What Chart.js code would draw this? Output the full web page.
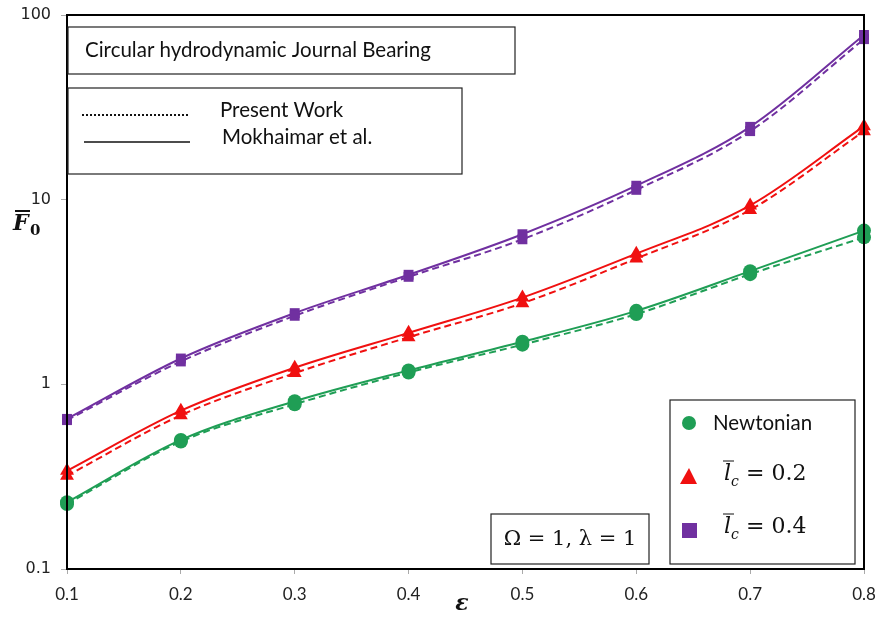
<!DOCTYPE html>
<html>
<head>
<meta charset="utf-8">
<script src="https://cdn.jsdelivr.net/npm/chart.js@4/dist/chart.umd.min.js"></script>
<style>
  html, body { margin: 0; padding: 0; background: #fff; }
  #wrap { width: 881px; height: 619px; }
</style>
</head>
<body>
<div id="wrap"><canvas id="bearingChart" width="881" height="619"></canvas></div>
<script>
// eccentricity ratio
const eps = [0.1, 0.2, 0.3, 0.4, 0.5, 0.6, 0.7, 0.8];

// Newtonian
const newtPresent = [0.225, 0.49, 0.78, 1.16, 1.64, 2.4, 3.95, 6.25];
const newtMokh = [0.23, 0.50, 0.81, 1.19, 1.70, 2.5, 4.1, 6.8];
// l_c = 0.2
const lc02Present = [0.32, 0.68, 1.15, 1.8, 2.75, 4.8, 8.8, 23.5];
const lc02Mokh = [0.34, 0.72, 1.23, 1.9, 2.95, 5.1, 9.3, 25];
// l_c = 0.4
const lc04Present = [0.64, 1.33, 2.35, 3.82, 6.1, 11.3, 23.5, 74];
const lc04Mokh = [0.65, 1.38, 2.43, 3.92, 6.5, 11.9, 24.8, 78];

const yTicks = [0.1, 1, 10, 100];
const xTicks = [0.1, 0.2, 0.3, 0.4, 0.5, 0.6, 0.7, 0.8];

const GREEN = '#1f9e55';
const RED = '#f01010';
const PURPLE = '#7030a0';

const SANS = 'Lato, "Open Sans", sans-serif';
const SERIF = '"DejaVu Serif", "Liberation Serif", serif';

function series(values, color, shape, dashed) {
  return {
    data: eps.map((x, i) => ({x: x, y: values[i]})),
    borderColor: color,
    backgroundColor: color,
    borderWidth: 2,
    borderDash: dashed ? [7, 4] : [],
    pointStyle: shape,
    pointRadius: shape === 'triangle' ? 8 : 7,
    pointBorderWidth: 0,
    cubicInterpolationMode: 'monotone',
    fill: false,
    clip: false
  };
}

//Рамки, подписи осей и легенды
const decorPlugin = {
  id: 'decor',
  afterDraw(chart) {
    const ctx = chart.ctx;
    const a = chart.chartArea;
    ctx.save();
    // plot frame
    ctx.strokeStyle = '#000';
    ctx.lineWidth = 2;
    ctx.strokeRect(a.left, a.top, a.right - a.left, a.bottom - a.top);

    // boxes
    ctx.lineWidth = 1.2;
    ctx.strokeStyle = '#222';
    ctx.fillStyle = '#fff';
    const box = (x, y, w, h) => { ctx.fillRect(x, y, w, h); ctx.strokeRect(x, y, w, h); };

    box(68, 27, 447, 47);
    box(68, 88, 394, 86);
    box(491, 514, 158, 50);
    box(670, 400, 185, 164);

    ctx.fillStyle = '#111';
    ctx.textBaseline = 'middle';
    ctx.font = '20.5px ' + SANS;
    ctx.fillText('Circular hydrodynamic Journal Bearing', 85, 50);
    ctx.fillText('Present Work', 220, 110);
    ctx.fillText('Mokhaimar et al.', 222, 137);

    // line keys
    ctx.strokeStyle = '#111';
    ctx.lineWidth = 2;
    ctx.setLineDash([2, 2]);
    ctx.beginPath(); ctx.moveTo(82, 115); ctx.lineTo(188, 115); ctx.stroke();
    ctx.setLineDash([]);
    ctx.lineWidth = 1.5;
    ctx.beginPath(); ctx.moveTo(84, 142); ctx.lineTo(190, 142); ctx.stroke();

    // parameter box
    ctx.font = '21px ' + SERIF;
    ctx.textAlign = 'center';
    ctx.fillText('Ω = 1, λ = 1', 570, 540);
    ctx.textAlign = 'left';

    // marker legend
    ctx.fillStyle = GREEN;
    ctx.beginPath(); ctx.arc(689, 423, 7, 0, Math.PI * 2); ctx.fill();
    ctx.fillStyle = RED;
    ctx.beginPath(); ctx.moveTo(689, 468); ctx.lineTo(697, 484); ctx.lineTo(680, 484); ctx.closePath(); ctx.fill();
    ctx.fillStyle = PURPLE;
    ctx.fillRect(682, 523, 15, 15);

    ctx.fillStyle = '#111';
    ctx.font = '20.5px ' + SANS;
    ctx.fillText('Newtonian', 713, 423);
    ctx.font = 'italic 22px ' + SERIF;
    ctx.fillText('l', 724, 474);
    ctx.fillText('l', 724, 527);
    ctx.font = 'italic 14px ' + SERIF;
    ctx.fillText('c', 731, 482);
    ctx.fillText('c', 731, 535);
    ctx.lineWidth = 1;
    ctx.beginPath(); ctx.moveTo(723, 461); ctx.lineTo(734, 461); ctx.stroke();
    ctx.beginPath(); ctx.moveTo(723, 514); ctx.lineTo(734, 514); ctx.stroke();
    ctx.font = '22px ' + SERIF;
    ctx.fillText('= 0.2', 746, 474);
    ctx.fillText('= 0.4', 746, 527);

    // axis titles
    ctx.font = 'bold italic 22px ' + SERIF;
    ctx.fillText('F', 13, 224);
    ctx.lineWidth = 2;
    ctx.beginPath(); ctx.moveTo(15, 211); ctx.lineTo(30, 211); ctx.stroke();
    ctx.font = 'bold 15px ' + SERIF;
    ctx.fillText('0', 30, 231);
    ctx.font = 'bold italic 22px ' + SERIF;
    ctx.textAlign = 'center';
    ctx.fillText('ε', 462, 604);
    ctx.restore();
  }
};

new Chart(document.getElementById('bearingChart'), {
  type: 'line',
  data: {
    datasets: [
      series(newtPresent, GREEN, 'circle', true),
      series(newtMokh, GREEN, 'circle', false),
      series(lc02Present, RED, 'triangle', true),
      series(lc02Mokh, RED, 'triangle', false),
      series(lc04Present, PURPLE, 'rect', true),
      series(lc04Mokh, PURPLE, 'rect', false)
    ]
  },
  options: {
    responsive: false,
    animation: false,
    layout: { autoPadding: false, padding: { left: 0, top: 15, right: 17, bottom: 0 } },
    plugins: {
      legend: { display: false },
      tooltip: { enabled: false }
    },
    scales: {
      x: {
        type: 'linear',
        min: 0.1,
        max: 0.8,
        afterFit: s => { s.height = 50; s.paddingLeft = 0; s.paddingRight = 0; },
        afterBuildTicks: s => { s.ticks = xTicks.map(v => ({value: v})); },
        ticks: {
          padding: 10,
          color: '#222',
          font: { family: SANS, size: 17 },
          callback: v => v.toFixed(1)
        },
        grid: { drawOnChartArea: false, drawTicks: true, tickLength: 5, color: '#aaa' },
        border: { color: '#000', width: 2 }
      },
      y: {
        type: 'logarithmic',
        min: 0.1,
        max: 100,
        afterFit: s => { s.width = 67; s.paddingTop = 0; s.paddingBottom = 0; },
        afterBuildTicks: s => { s.ticks = yTicks.map(v => ({value: v})); },
        ticks: {
          padding: 10,
          color: '#222',
          font: { family: '"DejaVu Sans", sans-serif', size: 16 },
          callback: v => String(v)
        },
        grid: { drawOnChartArea: false, drawTicks: true, tickLength: 6, color: '#aaa' },
        border: { color: '#000', width: 2 }
      }
    }
  },
  plugins: [decorPlugin]
});
</script>
</body>
</html>
